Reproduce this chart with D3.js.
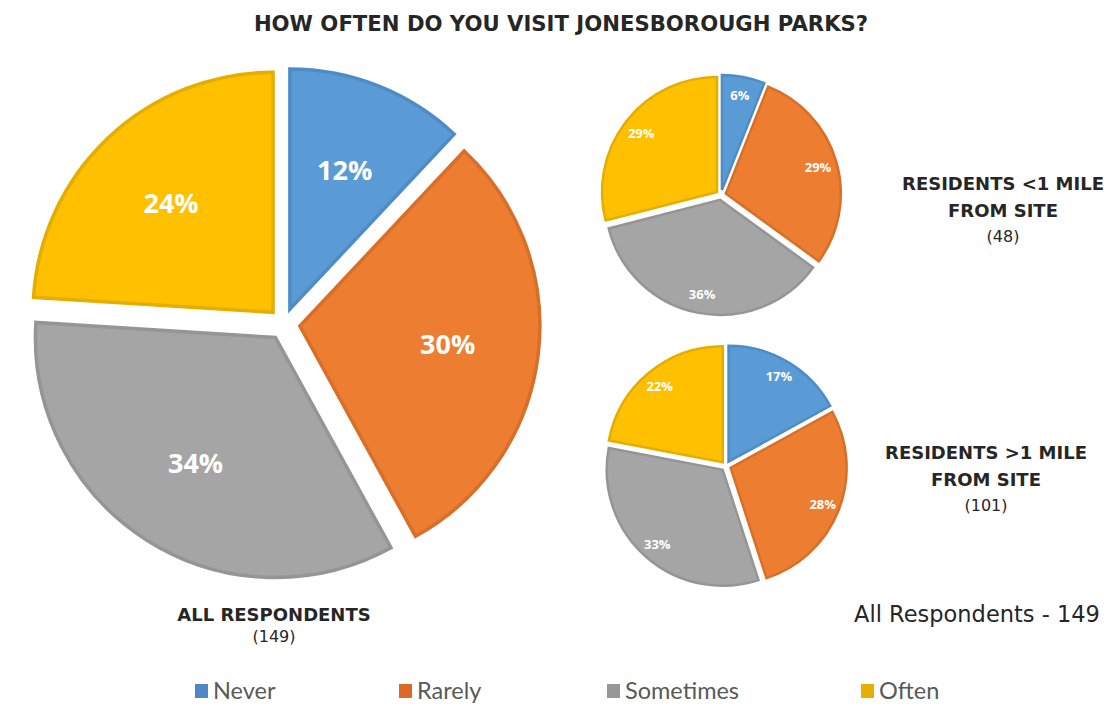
<!DOCTYPE html>
<html>
<head>
<meta charset="utf-8">
<script src="https://cdn.jsdelivr.net/npm/d3@7"></script>
<style>
  html, body { margin: 0; padding: 0; background: #fff; }
  svg { display: block; }
</style>
</head>
<body>
<svg id="chart" width="1117" height="710"></svg>
<script>
// ---- data ----
const categories = ["Never", "Rarely", "Sometimes", "Often"];
const allRespondents = [12, 30, 34, 24];
const lessThanOneMile = [6, 29, 36, 29];
const moreThanOneMile = [17, 28, 33, 22];
const titleText = "HOW OFTEN DO YOU VISIT JONESBOROUGH PARKS?";
const groupTitles = ["ALL RESPONDENTS", "RESIDENTS <1 MILE", "RESIDENTS >1 MILE"];
const groupCounts = ["(149)", "(48)", "(101)"];
const footnote = "All Respondents - 149";

// ---- styles ----
const fills = ["#5b9bd5", "#ed7d31", "#a5a5a5", "#ffc000"];
const strokes = ["#4e8cc7", "#d86f28", "#959595", "#e5ad00"];
const legendFills = ["#4f86c6", "#dc6a27", "#979797", "#e8ae00"];
const color = d3.scaleOrdinal().domain(categories).range(fills);
const strokeColor = d3.scaleOrdinal().domain(categories).range(strokes);

const svg = d3.select("#chart");
const fontBold = "'DejaVu Sans', sans-serif";
const fontPct = "'Open Sans', sans-serif";

svg.append("text")
  .attr("x", 561).attr("y", 31)
  .attr("text-anchor", "middle")
  .attr("font-family", fontBold)
  .attr("font-weight", "bold")
  .attr("font-size", 21.2)
  .attr("fill", "#262626")
  .text(titleText);

function drawPie(values, cx, cy, r, explode, labelR, fontSize, sw) {
  const pie = d3.pie().sort(null).value(d => d.v);
  const data = pie(values.map((v, i) => ({ v, cat: categories[i] })));
  const arc = d3.arc().innerRadius(0).outerRadius(r);
  const g = svg.append("g").attr("transform", `translate(${cx},${cy})`);
  const slices = g.selectAll("g.slice").data(data).enter().append("g")
    .attr("class", "slice")
    .attr("transform", d => {
      const m = (d.startAngle + d.endAngle) / 2;
      return `translate(${Math.sin(m) * explode},${-Math.cos(m) * explode})`;
    });
  slices.append("path")
    .attr("d", arc)
    .attr("fill", d => color(d.data.cat))
    .attr("stroke", d => strokeColor(d.data.cat))
    .attr("stroke-width", sw)
    .attr("stroke-linejoin", "miter");
  slices.append("text")
    .attr("x", d => Math.sin((d.startAngle + d.endAngle) / 2) * labelR)
    .attr("y", d => -Math.cos((d.startAngle + d.endAngle) / 2) * labelR)
    .attr("dy", "0.36em")
    .attr("text-anchor", "middle")
    .attr("font-family", fontPct)
    .attr("font-weight", "bold")
    .attr("font-size", fontSize)
    .attr("fill", "#ffffff")
    .text(d => d.data.v + "%");
}

drawPie(allRespondents, 284, 324, 240, 16, 149, 27, 3.5);
drawPie(lessThanOneMile, 721, 195, 115, 5, 96, 13, 2.5);
drawPie(moreThanOneMile, 726, 466, 116, 5, 99, 13, 2.5);

function groupLabel(lines, count, x, y, lh) {
  lines.forEach((t, i) => {
    svg.append("text")
      .attr("x", x).attr("y", y + i * lh)
      .attr("text-anchor", "middle")
      .attr("font-family", fontBold)
      .attr("font-weight", "bold")
      .attr("font-size", 18)
      .attr("fill", "#262626")
      .text(t);
  });
  svg.append("text")
    .attr("x", x).attr("y", y + lines.length * lh - 2)
    .attr("text-anchor", "middle")
    .attr("font-family", fontBold)
    .attr("font-size", 16)
    .attr("fill", "#262626")
    .text(count);
}
groupLabel([groupTitles[0]], groupCounts[0], 274, 621, 23);
groupLabel([groupTitles[1], "FROM SITE"], groupCounts[1], 1003, 190, 27);
groupLabel([groupTitles[2], "FROM SITE"], groupCounts[2], 986, 459, 27);

svg.append("text")
  .attr("x", 977).attr("y", 622)
  .attr("text-anchor", "middle")
  .attr("font-family", fontBold)
  .attr("font-size", 22.5)
  .attr("fill", "#262626")
  .text(footnote);

// legend
const legendX = [195, 399, 607, 861];
const legend = svg.append("g");
categories.forEach((c, i) => {
  legend.append("rect")
    .attr("x", legendX[i]).attr("y", 684)
    .attr("width", 13).attr("height", 14)
    .attr("fill", legendFills[i]);
  legend.append("text")
    .attr("x", legendX[i] + 18).attr("y", 699)
    .attr("font-family", "Lato, sans-serif")
    .attr("font-size", 23.5)
    .attr("fill", "#595959")
    .text(c);
});
</script>
</body>
</html>
